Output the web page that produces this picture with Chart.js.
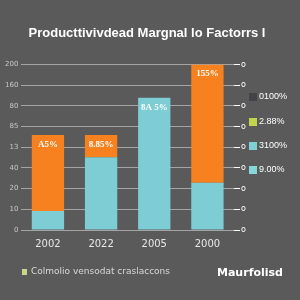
<!DOCTYPE html>
<html>
<head>
<meta charset="utf-8">
<script src="https://cdn.jsdelivr.net/npm/chart.js@4"></script>
<style>
  html, body { margin: 0; padding: 0; background: #5a5a5a; }
  #wrap { width: 300px; height: 300px; position: relative; }
</style>
</head>
<body>
<div id="wrap"><canvas id="chart" width="300" height="300"></canvas></div>
<script>
// chart values
const categories = ['2002', '2022', '2005', '2000'];
const baseValues = [23, 88, 160, 57];
const topValues = [92, 27, 0, 143];
const barLabels = ['A5%', '8.85%', '8A 5%', '155%'];
const tickLabels = ['0', '10', '20', '40', '13', '85', '80', '160', '200'];
const legendItems = ['0100%', '2.88%', '3100%', '9.00%'];
const legendColors = ['#434348', '#c3d44c', '#7ecfd6', '#86d7da'];

const teal = '#7ecdd5';
const orange = '#f7801f';

// draws labels on bars plus the side and bottom legends
const extras = {
    id: 'extras',
    afterDatasetsDraw(chart) {
        const ctx = chart.ctx;
        const metaTop = chart.getDatasetMeta(1);
        const metaBase = chart.getDatasetMeta(0);
        ctx.save();
        ctx.fillStyle = '#ffffff';
        ctx.font = 'bold 9px "Liberation Serif"';
        ctx.textAlign = 'center';
        ctx.textBaseline = 'top';
        barLabels.forEach((txt, i) => {
            const bar = topValues[i] > 0 ? metaTop.data[i] : metaBase.data[i];
            ctx.fillText(txt, bar.x, bar.y + 5);
        });

        // side legend
        ctx.textAlign = 'left';
        ctx.textBaseline = 'middle';
        ctx.font = '9px "Liberation Sans"';
        const ys = [97, 122, 146, 170];
        legendItems.forEach((txt, i) => {
            ctx.fillStyle = legendColors[i];
            ctx.fillRect(249, ys[i] - 4, 8, 8);
            ctx.fillStyle = '#ffffff';
            ctx.fillText(txt, 259, ys[i]);
        });

        // bottom legend
        ctx.fillStyle = '#c9d68a';
        ctx.fillRect(22, 269, 5, 6);
        ctx.fillStyle = '#d8d8d8';
        ctx.font = '9px "DejaVu Sans"';
        ctx.fillText('Colmolio vensodat craslaccons', 31, 272);
        ctx.fillStyle = '#ffffff';
        ctx.font = 'bold 11px "DejaVu Sans"';
        ctx.fillText('Maurfolisd', 217, 273);
        ctx.restore();
    }
};

new Chart(document.getElementById('chart'), {
    type: 'bar',
    data: {
        labels: categories,
        datasets: [
            { data: baseValues, backgroundColor: teal, borderWidth: 0 },
            { data: topValues, backgroundColor: orange, borderWidth: 0 }
        ]
    },
    options: {
        responsive: false,
        animation: false,
        layout: { padding: { left: 2, right: 8, top: 0, bottom: 50 } },
        plugins: {
            legend: { display: false },
            tooltip: { enabled: false },
            title: {
                display: true,
                text: 'Producttivivdead Margnal lo Factorrs l',
                color: '#ffffff',
                font: { size: 13, weight: 'bold', family: 'Liberation Sans' },
                padding: { top: 26, bottom: 23 }
            }
        },
        datasets: { bar: { categoryPercentage: 0.95, barPercentage: 0.64 } },
        scales: {
            x: {
                stacked: true,
                grid: { display: false },
                border: { display: false },
                ticks: { color: '#e8e8e8', font: { size: 10, family: 'DejaVu Sans' }, padding: 0 }
            },
            y: {
                stacked: true,
                min: 0,
                max: 200,
                ticks: {
                    stepSize: 25,
                    color: '#c8c8c8',
                    font: { size: 7, family: 'DejaVu Sans' },
                    callback: (v, i) => tickLabels[i]
                },
                grid: { color: 'rgba(255,255,255,0.45)', drawTicks: false },
                border: { display: false }
            },
            y2: {
                position: 'right',
                min: 0,
                max: 200,
                ticks: {
                    stepSize: 25,
                    color: '#ffffff',
                    font: { size: 8, family: 'DejaVu Sans' },
                    callback: () => 'o',
                    padding: 1
                },
                grid: { drawOnChartArea: false, color: '#ffffff', tickLength: 6 },
                border: { display: false },
                afterFit(scale) { scale.width = 58; }
            }
        }
    },
    plugins: [extras]
});
</script>
</body>
</html>
